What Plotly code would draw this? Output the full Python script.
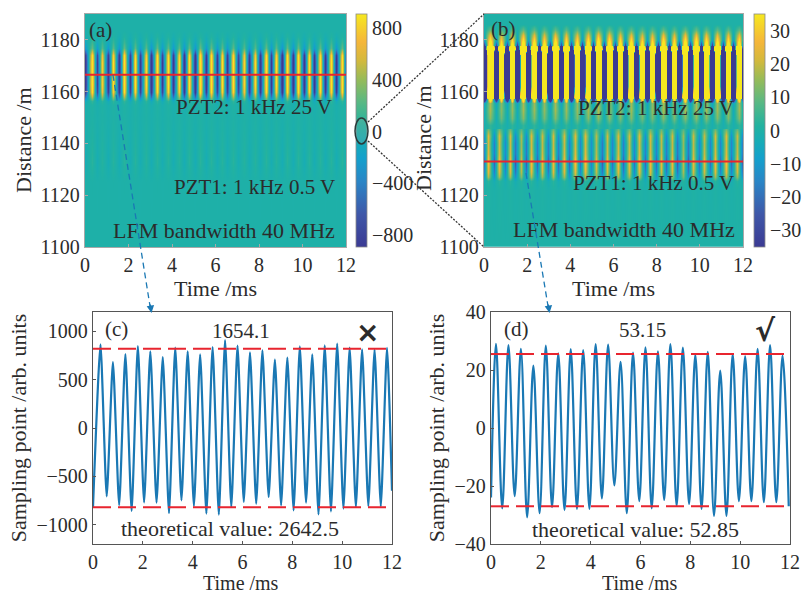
import numpy as np
import plotly.graph_objects as go

W, H = 803, 592
INK = "#2b2b2b"
SERIF = "Liberation Serif"

# Panel (c): first/last samples and alternating extremes
c_peak_t = [0.3, 0.8, 1.3, 1.8, 2.3, 2.8, 3.3, 3.8, 4.3, 4.8, 5.3, 5.8, 6.3, 6.8, 7.3, 7.8, 8.3, 8.8, 9.3, 9.8, 10.3, 10.8, 11.3, 11.8]
c_peak_v = [865, 683, 765, 848, 793, 734, 831, 793, 762, 838, 910, 852, 783, 803, 707, 728, 845, 762, 855, 872, 831, 814, 810, 830]
c_trough_t = [0.0, 0.55, 1.05, 1.55, 2.05, 2.55, 3.05, 3.55, 4.05, 4.55, 5.05, 5.55, 6.05, 6.55, 7.05, 7.55, 8.05, 8.55, 9.05, 9.55, 10.05, 10.55, 11.05, 11.55, 12.0]
c_trough_v = [-820, -707, -797, -858, -770, -772, -880, -748, -807, -886, -897, -817, -765, -783, -714, -800, -852, -772, -893, -862, -834, -817, -807, -810, -650]

# Panel (d)
d_peak_t = [0.2, 0.7, 1.2, 1.7, 2.2, 2.7, 3.2, 3.7, 4.2, 4.7, 5.2, 5.7, 6.2, 6.7, 7.2, 7.7, 8.2, 8.7, 9.2, 9.7, 10.2, 10.7, 11.2, 11.7]
d_peak_v = [29, 28.6, 27.3, 21.5, 28.4, 25.7, 27.2, 26.9, 28.9, 28.8, 22.8, 26, 27.8, 26.4, 28.9, 27.7, 25.2, 26.3, 19.8, 25.5, 24.7, 27.3, 28.6, 25]
d_trough_t = [0.0, 0.45, 0.95, 1.45, 1.95, 2.45, 2.95, 3.45, 3.95, 4.45, 4.95, 5.45, 5.95, 6.45, 6.95, 7.45, 7.95, 8.45, 8.95, 9.45, 9.95, 10.45, 10.95, 11.45, 11.95]
d_trough_v = [-24, -27.7, -23.5, -30.8, -29.4, -27.3, -28.3, -27.9, -27.9, -24.3, -19.8, -29.4, -25.2, -27.7, -24.8, -26.9, -26.2, -27.9, -30.3, -30.3, -25.2, -25.2, -25.6, -25.6, -27]

# Relative strength of the vibration along the fibre, panel (a)
a_rows = [1100, 1125, 1128, 1133, 1140, 1150, 1155, 1156.5, 1158, 1160, 1163, 1167, 1171, 1174, 1175.5, 1177, 1179, 1181, 1184, 1190]
a_gain = [0, 0.005, 0.03, 0.08, 0.05, 0.02, 0.04, 0.12, 0.55, 1.05, 1.2, 1.15, 1.2, 1.05, 0.7, 0.3, 0.15, 0.06, 0.0, 0]

# Panel (b) is shown in two stacked parts: the PZT1 echo and the PZT2 echo,
# with separate strengths for the positive and negative half cycles
b_low_rows = [1100, 1122, 1125.5, 1127, 1129, 1133, 1136, 1140, 1143, 1145, 1147]
b_low_peak = [0, 0.02, 0.1, 0.6, 0.85, 1, 0.8, 0.75, 0.8, 0.5, 0.12]
b_low_trough = [0, 0.02, 0.1, 0.4, 0.6, 0.8, 0.6, 0.6, 0.45, 0.2, 0.05]
b_high_rows = [1147, 1150, 1153, 1155.5, 1157, 1158, 1162, 1168, 1174, 1176.5, 1178, 1180, 1182, 1184, 1186, 1190]
b_high_peak = [0.004, 0.016, 0.02, 0.02, 0.07, 0.6, 1, 1, 1, 1, 0.07, 0.045, 0.03, 0.012, 0, 0]
b_high_trough = [0.002, 0.004, 0.005, 0.008, 0.08, 0.5, 1, 1, 1, 0.5, 0.04, 0.01, 0.005, 0.002, 0, 0]

a_ticks_cb = [-800, -400, 0, 400, 800]
b_ticks_cb = [-30, -20, -10, 0, 10, 20, 30]
c_limit_hi, c_limit_lo = 820, -820
d_limit_hi, d_limit_lo = 25.5, -27
a_cut, b_cut = 1166.5, 1133

parula = [[0, "#3b3a93"], [0.14, "#3f57a8"], [0.28, "#2a85c6"], [0.38, "#14a0cc"], [0.46, "#18adb4"],
          [0.52, "#22b2a0"], [0.62, "#58b884"], [0.72, "#97bb58"], [0.8, "#d3b93d"], [0.88, "#f5b63a"], [1, "#f6e81f"]]


def merged(t1, v1, t2, v2):
    t = np.array(t1 + t2)
    v = np.array(v1 + v2, dtype=float)
    o = np.argsort(t)
    return t[o], v[o]


def two_sided(peak, trough, v):
    return np.where(v > 0, np.outer(peak, v), np.outer(trough, v))


ct, cv = merged(c_peak_t, c_peak_v, c_trough_t, c_trough_v)
dt, dv = merged(d_peak_t, d_peak_v, d_trough_t, d_trough_v)

# Panel boxes in page pixels: left, right, top, bottom
box = {"a": (85, 346, 14, 247), "b": (484, 743, 14, 247), "c": (93, 392, 312, 544), "d": (491, 790, 312, 544)}
ML, MR, MT, MB = 85, 13, 14, 48
PW, PH = W - ML - MR, H - MT - MB


def px(x):
    return (x - ML) / PW


def py(y):
    return 1 - (y - MT) / PH


def dom(k):
    l, r, t, b = box[k]
    return dict(x=[px(l), px(r)], y=[py(b), py(t)])


fig = go.Figure()
cb_a = dict(x=px(356), xanchor="left", y=py(247), yanchor="bottom", len=233 / PH, lenmode="fraction", thickness=11,
            tickvals=a_ticks_cb, ticks="", outlinewidth=0.8, outlinecolor="#8a8a8a", tickfont=dict(size=20, color=INK, family=SERIF), ypad=0, xpad=0)
cb_b = dict(cb_a, x=px(754), tickvals=b_ticks_cb)

fig.add_trace(go.Heatmap(x=ct, y=a_rows, z=np.outer(a_gain, cv), zmin=-892, zmax=908, zsmooth="best",
                         colorscale=parula, colorbar=cb_a, xaxis="x", yaxis="y", name="(a)"))
fig.add_trace(go.Heatmap(x=dt, y=b_low_rows, z=two_sided(b_low_peak, b_low_trough, dv), zmin=-35, zmax=35, zsmooth="best",
                         colorscale=parula, colorbar=cb_b, xaxis="x2", yaxis="y2", name="(b) PZT1"))
fig.add_trace(go.Heatmap(x=ct, y=b_high_rows, z=two_sided(b_high_peak, b_high_trough, cv), zmin=-35, zmax=35, zsmooth="best",
                         colorscale=parula, showscale=False, xaxis="x2", yaxis="y2", name="(b) PZT2"))

BLUE = "#1a78b4"
RED = "#e8252f"
fig.add_trace(go.Scatter(x=ct, y=cv, mode="lines", line=dict(color=BLUE, width=2.2, shape="spline", smoothing=0.55), xaxis="x3", yaxis="y3", name="(c)"))
fig.add_trace(go.Scatter(x=dt, y=dv, mode="lines", line=dict(color=BLUE, width=2.2, shape="spline", smoothing=1), xaxis="x4", yaxis="y4", name="(d)"))

x_range = [0, 12]
for xa, ya, red in (("x3", "y3", (c_limit_hi, c_limit_lo)), ("x4", "y4", (d_limit_hi, d_limit_lo))):
    for v in red:
        fig.add_trace(go.Scatter(x=x_range, y=[v, v], mode="lines", line=dict(color=RED, width=2, dash="18px,7px"), xaxis=xa, yaxis=ya, showlegend=False))
fig.add_trace(go.Scatter(x=x_range, y=[a_cut, a_cut], mode="lines", line=dict(color=RED, width=2), xaxis="x", yaxis="y"))
fig.add_trace(go.Scatter(x=x_range, y=[b_cut, b_cut], mode="lines", line=dict(color=RED, width=2), xaxis="x2", yaxis="y2"))


def ax(domain, rng, tickvals, frame, title=None, standoff=None, anchor=None, size=22):
    d = dict(domain=domain, range=rng, tickvals=tickvals, showgrid=False, zeroline=False, mirror=True, showline=True,
             linecolor=frame, linewidth=1.3, ticks="inside", ticklen=3, tickwidth=0.8, tickcolor=frame,
             tickfont=dict(size=20, color=INK, family=SERIF), anchor=anchor, automargin=True)
    if title:
        d["title"] = dict(text=title, font=dict(size=size, color=INK, family=SERIF), standoff=standoff)
    return d


t_ticks = [0, 2, 4, 6, 8, 10, 12]
d_ticks = [1100, 1120, 1140, 1160, 1180]
layout = dict(
    width=W, height=H, margin=dict(l=ML, r=MR, t=MT, b=MB, autoexpand=False), paper_bgcolor="white", plot_bgcolor="white", showlegend=False,
    xaxis=ax(dom("a")["x"], x_range, t_ticks, "#a8a8a8", "Time /ms", 1, "y"),
    yaxis=ax(dom("a")["y"], [1100, 1190], d_ticks, "#a8a8a8", None, None, "x"),
    xaxis2=ax(dom("b")["x"], x_range, t_ticks, "#a8a8a8", "Time /ms", 1, "y2"),
    yaxis2=ax(dom("b")["y"], [1100, 1190], d_ticks, "#a8a8a8", None, None, "x2"),
    xaxis3=ax(dom("c")["x"], x_range, t_ticks, "#555555", None, None, "y3"),
    yaxis3=ax(dom("c")["y"], [-1200, 1200], [-1000, -500, 0, 500, 1000], "#555555", "Sampling point /arb. units", 3, "x3"),
    xaxis4=ax(dom("d")["x"], x_range, t_ticks, "#555555", None, None, "y4"),
    yaxis4=ax(dom("d")["y"], [-40, 40], [-40, -20, 0, 20, 40], "#555555", "Sampling point /arb. units", 3, "x4"),
)


def note(x, y, text, size=21, angle=0, bold=False, family=SERIF):
    return dict(x=px(x), y=py(y), xref="paper", yref="paper", text=f"<b>{text}</b>" if bold else text, showarrow=False,
                xanchor="center", yanchor="middle", textangle=angle, font=dict(size=size, color=INK, family=family))


ann = [
    note(100, 30, "(a)"), note(254, 107, "PZT2: 1 kHz 25 V"), note(254, 187, "PZT1: 1 kHz 0.5 V"), note(224, 230, "LFM bandwidth 40 MHz", 22),
    note(503, 29, "(b)"), note(656, 108, "PZT2: 1 kHz 25 V"), note(653, 183, "PZT1: 1 kHz 0.5 V"), note(624, 229, "LFM bandwidth 40 MHz", 22),
    note(116, 329, "(c)"), note(241, 331, "1654.1"), note(367, 332, "×", 28, bold=True, family="DejaVu Sans"), note(230, 528, "theoretical value: 2642.5", 22),
    note(516, 329, "(d)"), note(642, 330, "53.15"), note(765, 330, "√", 30, bold=True, family="DejaVu Sans"), note(635, 529, "theoretical value: 52.85", 22),
    note(24, 140, "Distance /m", 22, -90), note(424, 138, "Distance /m", 22, -90),
    note(241, 583, "Time /ms", 20), note(640, 583, "Time /ms", 20),
]
for (x0, y0, x1, y1) in ((150, 303, 151.5, 313), (548, 303, 549.5, 313)):
    ann.append(dict(x=px(x1), y=py(y1), ax=x0 - x1, ay=y0 - y1, xref="paper", yref="paper", axref="pixel", ayref="pixel", text="",
                    showarrow=True, arrowhead=2, arrowsize=1, arrowwidth=1.5, arrowcolor=BLUE))
layout["annotations"] = ann


def seg(x0, y0, x1, y1, color, dash, width=1.3):
    return dict(type="line", xref="paper", yref="paper", x0=px(x0), y0=py(y0), x1=px(x1), y1=py(y1), line=dict(color=color, width=width, dash=dash))


layout["shapes"] = [
    seg(113, 75, 150, 306, BLUE, "6px,4px"),
    seg(526, 173, 548, 306, BLUE, "6px,4px"),
    seg(368, 122, 484, 14, "#333333", "2px,1.5px"),
    seg(368, 141, 484, 247, "#333333", "2px,1.5px"),
    dict(type="circle", xref="paper", yref="paper", x0=px(355), x1=px(368), y0=py(144), y1=py(118), line=dict(color="#2a3a3a", width=1.5), fillcolor="rgba(170,170,170,0.18)"),
]
fig.update_layout(**layout)
post = ("document.body.style.margin='0';"
        "var a=document.querySelector('.layer-above'),i=document.querySelector('.infolayer');"
        "if(a&&i){i.parentNode.appendChild(a);}")
fig.write_html("out.html", post_script=post, config={"displayModeBar": False})
